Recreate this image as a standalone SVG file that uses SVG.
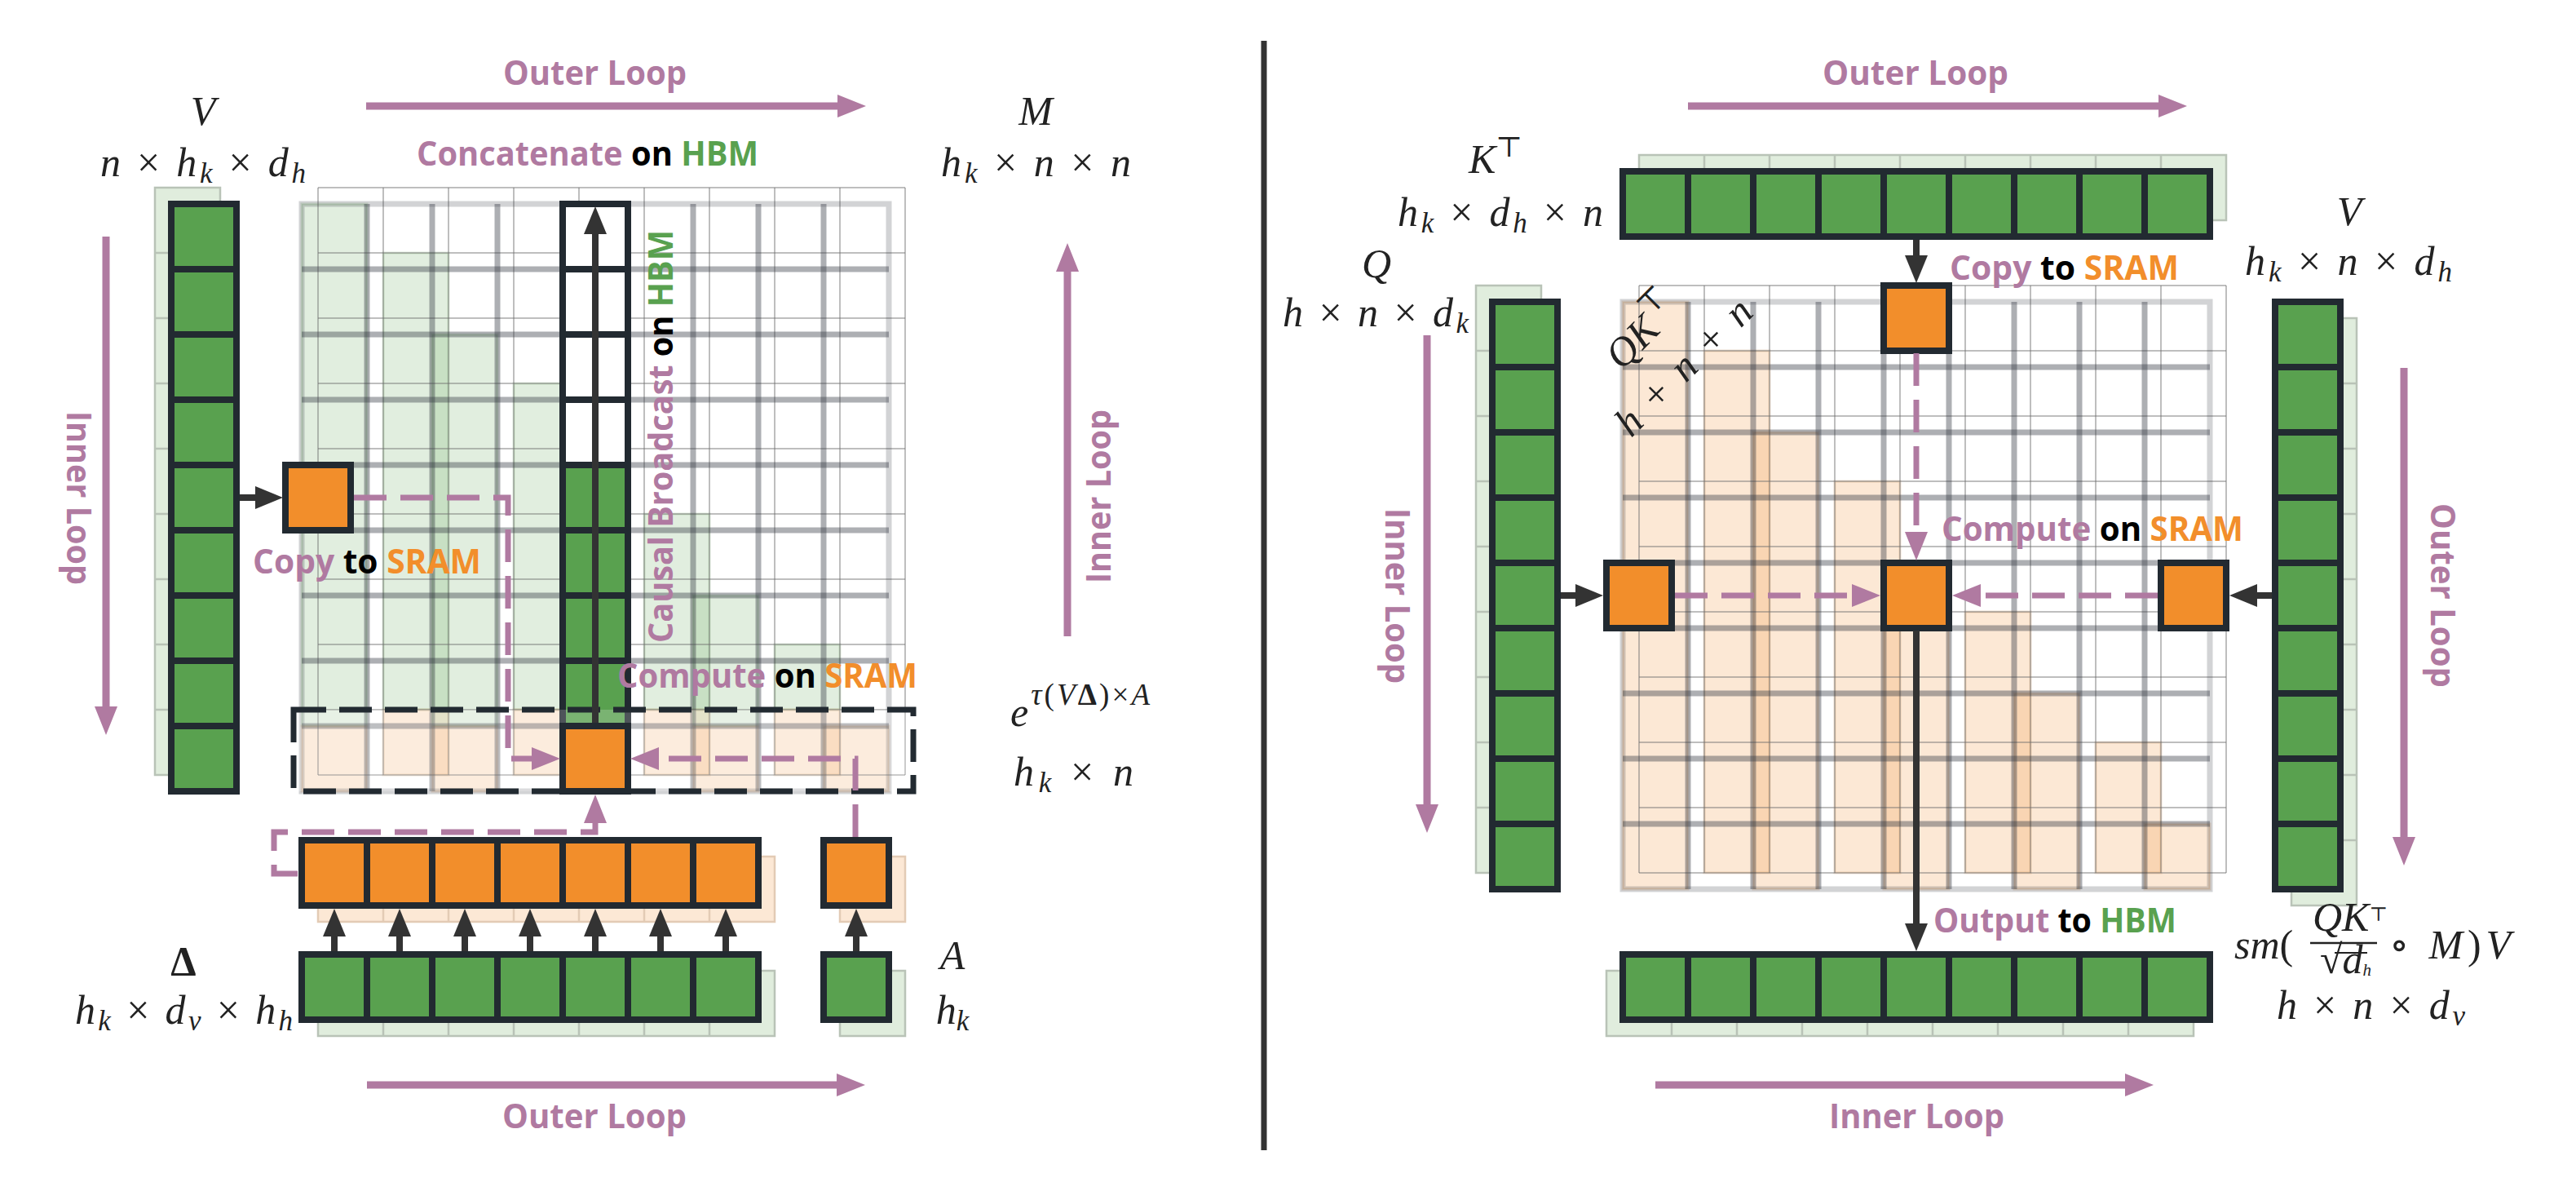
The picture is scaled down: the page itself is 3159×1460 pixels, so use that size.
<svg xmlns="http://www.w3.org/2000/svg" width="3159" height="1460" viewBox="0 0 3159 1460">
<style>
.g{fill:#59a14f;stroke:#222a31;stroke-width:8}
.o{fill:#f28e2b;stroke:#222a31;stroke-width:8}
.w{fill:#fff;stroke:#222a31;stroke-width:8}
.sep{fill:none;stroke:#222a31;stroke-width:8}
.sg{fill:#e0eddd;stroke:#b9c3b7;stroke-width:2.5}
.so{fill:#fce8d5;stroke:#e3cbb5;stroke-width:2.5}
.sl{fill:none;stroke:#b9c3b7;stroke-width:2.5}
.slo{fill:none;stroke:#e3cbb5;stroke-width:2.5}
.mg{fill:#59a14f;fill-opacity:.18;stroke:#59a14f;stroke-opacity:.2;stroke-width:3}
.mo{fill:#f28e2b;fill-opacity:.2;stroke:#c98a52;stroke-opacity:.25;stroke-width:3}
.tn{fill:none;stroke:#6f6f6f;stroke-opacity:.45;stroke-width:2}
.tko{fill:none;stroke:#333740;stroke-opacity:.22;stroke-width:7}
.tki{fill:none;stroke:#333740;stroke-opacity:.4;stroke-width:7}
.pd{fill:none;stroke:#b07aa1;stroke-width:7;stroke-dasharray:40 17}
.lp{fill:none;stroke:#b07aa1;stroke-width:9}
.bk{fill:none;stroke:#333;stroke-width:8}
.bd{fill:#fff;fill-opacity:.2;stroke:#222a31;stroke-width:7;stroke-dasharray:40 16}
.t{font-family:"Open Sans","Liberation Sans",sans-serif;font-weight:700;font-size:42px}
.tb{font-family:"Open Sans","Liberation Sans",sans-serif;font-weight:700;font-size:42px}
.p{fill:#b07aa1}.k{fill:#000}.hg{fill:#59a14f}.ho{fill:#f28e2b}
.m{font-family:"Liberation Serif","DejaVu Serif",serif;font-size:50px;fill:#222}
.i{font-style:italic}
.s{font-size:35px}
</style>
<defs>
<marker id="ab" markerUnits="userSpaceOnUse" markerWidth="40" markerHeight="32" refX="0" refY="14" orient="auto" overflow="visible"><path d="M0,0L34,14L0,28z" fill="#333"/></marker>
<marker id="ap" markerUnits="userSpaceOnUse" markerWidth="40" markerHeight="32" refX="0" refY="14" orient="auto" overflow="visible"><path d="M0,0L35,14L0,28z" fill="#b07aa1"/></marker>
</defs>
<rect width="3159" height="1460" fill="#fff"/>

<!-- ================= LEFT PANEL ================= -->
<g id="left-M-grid">
  <rect class="mg" x="470" y="310" width="80" height="560"/>
  <rect class="mg" x="630" y="470" width="80" height="400"/>
  <rect class="mg" x="790" y="630" width="80" height="240"/>
  <rect class="mg" x="950" y="790" width="80" height="80"/>
  <rect class="mo" x="470" y="870" width="80" height="80"/>
  <rect class="mo" x="630" y="870" width="80" height="80"/>
  <rect class="mo" x="790" y="870" width="80" height="80"/>
  <rect class="mo" x="950" y="870" width="80" height="80"/>
  <rect class="mg" x="370" y="250" width="80" height="640"/>
  <rect class="mg" x="530" y="410" width="80" height="480"/>
  <rect class="mg" x="690" y="570" width="80" height="320"/>
  <rect class="mg" x="850" y="730" width="80" height="160"/>
  <rect class="mo" x="370" y="890" width="80" height="80"/>
  <rect class="mo" x="530" y="890" width="80" height="80"/>
  <rect class="mo" x="690" y="890" width="80" height="80"/>
  <rect class="mo" x="850" y="890" width="80" height="80"/>
  <rect class="mo" x="1010" y="890" width="80" height="80"/>
  <path class="tn" d="M390,230V950M470,230V950M550,230V950M630,230V950M710,230V950M790,230V950M870,230V950M950,230V950M1030,230V950M1110,230V950"/>
  <path class="tn" d="M390,230H1110M390,310H1110M390,390H1110M390,470H1110M390,550H1110M390,630H1110M390,710H1110M390,790H1110M390,870H1110M390,950H1110"/>
  <rect class="tko" x="370" y="250" width="720" height="720"/>
  <path class="tki" d="M450,250V970M530,250V970M610,250V970M690,250V970M770,250V970M850,250V970M930,250V970M1010,250V970"/>
  <path class="tki" d="M370,330H1090M370,410H1090M370,490H1090M370,570H1090M370,650H1090M370,730H1090M370,810H1090M370,890H1090"/>
</g>

<g id="left-V">
  <rect class="sg" x="190" y="230" width="80" height="720"/>
  <path class="sl" d="M190,310h80M190,390h80M190,470h80M190,550h80M190,630h80M190,710h80M190,790h80M190,870h80"/>
  <rect class="g" x="210" y="250" width="80" height="720"/>
  <path class="sep" d="M210,330h80M210,410h80M210,490h80M210,570h80M210,650h80M210,730h80M210,810h80M210,890h80"/>
</g>

<g id="left-broadcast-column">
  <rect class="w" x="690" y="250" width="80" height="320"/>
  <rect class="g" x="690" y="570" width="80" height="320"/>
  <path class="sep" d="M690,330h80M690,410h80M690,490h80M690,650h80M690,730h80M690,810h80"/>
</g>

<g id="left-compute-row-box">
  <rect class="bd" x="360" y="870" width="760" height="100"/>
</g>

<g id="left-copy-cell"><rect class="o" x="350" y="570" width="80" height="80"/></g>
<g id="left-compute-cell"><rect class="o" x="690" y="890" width="80" height="80"/></g>

<g id="left-delta-sram">
  <rect class="so" x="390" y="1050" width="560" height="80"/>
  <path class="slo" d="M470,1050v80M550,1050v80M630,1050v80M710,1050v80M790,1050v80M870,1050v80"/>
  <rect class="o" x="370" y="1030" width="560" height="80"/>
  <path class="sep" d="M450,1030v80M530,1030v80M610,1030v80M690,1030v80M770,1030v80M850,1030v80"/>
</g>
<g id="left-A-sram">
  <rect class="so" x="1030" y="1050" width="80" height="80"/>
  <rect class="o" x="1010" y="1030" width="80" height="80"/>
</g>
<g id="left-delta">
  <rect class="sg" x="390" y="1190" width="560" height="80"/>
  <path class="sl" d="M470,1190v80M550,1190v80M630,1190v80M710,1190v80M790,1190v80M870,1190v80"/>
  <rect class="g" x="370" y="1170" width="560" height="80"/>
  <path class="sep" d="M450,1170v80M530,1170v80M610,1170v80M690,1170v80M770,1170v80M850,1170v80"/>
</g>
<g id="left-A">
  <rect class="sg" x="1030" y="1190" width="80" height="80"/>
  <rect class="g" x="1010" y="1170" width="80" height="80"/>
</g>

<!-- ================= RIGHT PANEL ================= -->
<g id="right-S-grid">
  <rect class="mo" x="2090" y="430" width="80" height="640"/>
  <rect class="mo" x="2250" y="590" width="80" height="480"/>
  <rect class="mo" x="2410" y="750" width="80" height="320"/>
  <rect class="mo" x="2570" y="910" width="80" height="160"/>
  <rect class="mo" x="1990" y="370" width="80" height="720"/>
  <rect class="mo" x="2150" y="530" width="80" height="560"/>
  <rect class="mo" x="2310" y="690" width="80" height="400"/>
  <rect class="mo" x="2470" y="850" width="80" height="240"/>
  <rect class="mo" x="2630" y="1010" width="80" height="80"/>
  <path class="tn" d="M2010,350V1070M2090,350V1070M2170,350V1070M2250,350V1070M2330,350V1070M2410,350V1070M2490,350V1070M2570,350V1070M2650,350V1070M2730,350V1070"/>
  <path class="tn" d="M2010,350H2730M2010,430H2730M2010,510H2730M2010,590H2730M2010,670H2730M2010,750H2730M2010,830H2730M2010,910H2730M2010,990H2730M2010,1070H2730"/>
  <rect class="tko" x="1990" y="370" width="720" height="720"/>
  <path class="tki" d="M2070,370V1090M2150,370V1090M2230,370V1090M2310,370V1090M2390,370V1090M2470,370V1090M2550,370V1090M2630,370V1090"/>
  <path class="tki" d="M1990,450H2710M1990,530H2710M1990,610H2710M1990,690H2710M1990,770H2710M1990,850H2710M1990,930H2710M1990,1010H2710"/>
</g>

<g id="right-K">
  <rect class="sg" x="2010" y="190" width="720" height="80"/>
  <path class="sl" d="M2090,190v80M2170,190v80M2250,190v80M2330,190v80M2410,190v80M2490,190v80M2570,190v80M2650,190v80"/>
  <rect class="g" x="1990" y="210" width="720" height="80"/>
  <path class="sep" d="M2070,210v80M2150,210v80M2230,210v80M2310,210v80M2390,210v80M2470,210v80M2550,210v80M2630,210v80"/>
</g>
<g id="right-Q">
  <rect class="sg" x="1810" y="350" width="80" height="720"/>
  <path class="sl" d="M1810,430h80M1810,510h80M1810,590h80M1810,670h80M1810,750h80M1810,830h80M1810,910h80M1810,990h80"/>
  <rect class="g" x="1830" y="370" width="80" height="720"/>
  <path class="sep" d="M1830,450h80M1830,530h80M1830,610h80M1830,690h80M1830,770h80M1830,850h80M1830,930h80M1830,1010h80"/>
</g>
<g id="right-V">
  <rect class="sg" x="2810" y="390" width="80" height="720"/>
  <path class="sl" d="M2810,470h80M2810,550h80M2810,630h80M2810,710h80M2810,790h80M2810,870h80M2810,950h80M2810,1030h80"/>
  <rect class="g" x="2790" y="370" width="80" height="720"/>
  <path class="sep" d="M2790,450h80M2790,530h80M2790,610h80M2790,690h80M2790,770h80M2790,850h80M2790,930h80M2790,1010h80"/>
</g>
<g id="right-out">
  <rect class="sg" x="1970" y="1190" width="720" height="80"/>
  <path class="sl" d="M2050,1190v80M2130,1190v80M2210,1190v80M2290,1190v80M2370,1190v80M2450,1190v80M2530,1190v80M2610,1190v80"/>
  <rect class="g" x="1990" y="1170" width="720" height="80"/>
  <path class="sep" d="M2070,1170v80M2150,1170v80M2230,1170v80M2310,1170v80M2390,1170v80M2470,1170v80M2550,1170v80M2630,1170v80"/>
</g>
<g id="right-K-copy"><rect class="o" x="2310" y="350" width="80" height="80"/></g>
<g id="right-Q-copy"><rect class="o" x="1970" y="690" width="80" height="80"/></g>
<g id="right-compute"><rect class="o" x="2310" y="690" width="80" height="80"/></g>
<g id="right-V-copy"><rect class="o" x="2650" y="690" width="80" height="80"/></g>

<!-- ================= CONNECTORS ================= -->
<g id="connectors">
  <path class="pd" d="M434,610H623V930H652" marker-end="url(#ap)"/>
  <path class="pd" d="M1049,1026V930H808" marker-end="url(#ap)"/>
  <path class="pd" d="M365,1071H336V1020H730V1009" marker-end="url(#ap)"/>
  <path class="bk" d="M294,610H313" marker-end="url(#ab)"/>
  <path class="bk" d="M730,886V287" marker-end="url(#ab)"/>
  <path class="bk" d="M410,1166V1148" marker-end="url(#ab)"/>
  <path class="bk" d="M490,1166V1148" marker-end="url(#ab)"/>
  <path class="bk" d="M570,1166V1148" marker-end="url(#ab)"/>
  <path class="bk" d="M650,1166V1148" marker-end="url(#ab)"/>
  <path class="bk" d="M730,1166V1148" marker-end="url(#ab)"/>
  <path class="bk" d="M810,1166V1148" marker-end="url(#ab)"/>
  <path class="bk" d="M890,1166V1148" marker-end="url(#ab)"/>
  <path class="bk" d="M1050,1166V1148" marker-end="url(#ab)"/>
  <path class="lp" d="M449,130H1027" marker-end="url(#ap)"/>
  <path class="lp" d="M450,1330H1026" marker-end="url(#ap)"/>
  <path class="lp" d="M130,290V866" marker-end="url(#ap)"/>
  <path class="lp" d="M1309,780V333" marker-end="url(#ap)"/>

  <path class="pd" d="M2350,433V652" marker-end="url(#ap)"/>
  <path class="pd" d="M2054,730H2271" marker-end="url(#ap)"/>
  <path class="pd" d="M2646,730H2429" marker-end="url(#ap)"/>
  <path class="bk" d="M2350,294V313" marker-end="url(#ab)"/>
  <path class="bk" d="M1914,730H1932" marker-end="url(#ab)"/>
  <path class="bk" d="M2786,730H2768" marker-end="url(#ab)"/>
  <path class="bk" d="M2350,773V1132" marker-end="url(#ab)"/>
  <path class="lp" d="M2070,130H2647" marker-end="url(#ap)"/>
  <path class="lp" d="M2030,1330H2606" marker-end="url(#ap)"/>
  <path class="lp" d="M1750,411V986" marker-end="url(#ap)"/>
  <path class="lp" d="M2948,451V1026" marker-end="url(#ap)"/>
</g>

<line x1="1550" y1="50" x2="1550" y2="1410" stroke="#333" stroke-width="7"/>

<!-- ================= LABELS ================= -->
<g id="labels">
  <text class="t p" x="617" y="104" textLength="225" lengthAdjust="spacingAndGlyphs">Outer Loop</text>
  <text class="t p" x="616" y="1383" textLength="226" lengthAdjust="spacingAndGlyphs">Outer Loop</text>
  <text class="t p" x="2235" y="104" textLength="228" lengthAdjust="spacingAndGlyphs">Outer Loop</text>
  <text class="t p" x="2243" y="1383" textLength="215" lengthAdjust="spacingAndGlyphs">Inner Loop</text>
  <text class="t p" transform="translate(82,504) rotate(90)" textLength="213" lengthAdjust="spacingAndGlyphs">Inner Loop</text>
  <text class="t p" transform="translate(1362,715) rotate(-90)" textLength="213" lengthAdjust="spacingAndGlyphs">Inner Loop</text>
  <text class="t p" transform="translate(1699,623) rotate(90)" textLength="215" lengthAdjust="spacingAndGlyphs">Inner Loop</text>
  <text class="t p" transform="translate(2981,617) rotate(90)" textLength="226" lengthAdjust="spacingAndGlyphs">Outer Loop</text>

  <text class="t" x="511" y="203" textLength="419" lengthAdjust="spacingAndGlyphs"><tspan class="p">Concatenate</tspan> <tspan class="k">on</tspan> <tspan class="hg">HBM</tspan></text>
  <text class="t" x="310" y="703" textLength="280" lengthAdjust="spacingAndGlyphs"><tspan class="p">Copy</tspan> <tspan class="k">to</tspan> <tspan class="ho">SRAM</tspan></text>
  <text class="t" x="757" y="843" textLength="368" lengthAdjust="spacingAndGlyphs"><tspan class="p">Compute</tspan> <tspan class="k">on</tspan> <tspan class="ho">SRAM</tspan></text>
  <text class="tb" transform="translate(825,788) rotate(-90)" textLength="506" lengthAdjust="spacingAndGlyphs"><tspan class="p">Causal Broadcast</tspan> <tspan class="k">on</tspan> <tspan class="hg">HBM</tspan></text>
  <text class="t" x="2391" y="343" textLength="281" lengthAdjust="spacingAndGlyphs"><tspan class="p">Copy</tspan> <tspan class="k">to</tspan> <tspan class="ho">SRAM</tspan></text>
  <text class="t" x="2381" y="663" textLength="370" lengthAdjust="spacingAndGlyphs"><tspan class="p">Compute</tspan> <tspan class="k">on</tspan> <tspan class="ho">SRAM</tspan></text>
  <text class="t" x="2371" y="1143" textLength="298" lengthAdjust="spacingAndGlyphs"><tspan class="p">Output</tspan> <tspan class="k">to</tspan> <tspan class="hg">HBM</tspan></text>

  <text class="m i" x="249" y="153" text-anchor="middle" font-size="54">V</text>
  <text class="m" x="123" y="216" textLength="252"><tspan class="i">n</tspan> × <tspan class="i">h</tspan><tspan class="i s" dy="8">k</tspan><tspan dy="-8"> × </tspan><tspan class="i">d</tspan><tspan class="i s" dy="8">h</tspan></text>
  <text class="m i" x="1270" y="153" text-anchor="middle" font-size="54">M</text>
  <text class="m" x="1154" y="216" textLength="233"><tspan class="i">h</tspan><tspan class="i s" dy="8">k</tspan><tspan dy="-8"> × </tspan><tspan class="i">n</tspan> × <tspan class="i">n</tspan></text>
  <text class="m" x="1239" y="890" textLength="171"><tspan class="i">e</tspan><tspan font-size="37" dy="-26"><tspan class="i">τ</tspan>(<tspan class="i">V</tspan><tspan font-weight="bold">Δ</tspan>)×<tspan class="i">A</tspan></tspan></text>
  <text class="m" x="1243" y="963" textLength="147"><tspan class="i">h</tspan><tspan class="i s" dy="8">k</tspan><tspan dy="-8"> × </tspan><tspan class="i">n</tspan></text>
  <text class="m" x="225" y="1195" text-anchor="middle" font-weight="bold" font-size="48">Δ</text>
  <text class="m" x="92" y="1255" textLength="267"><tspan class="i">h</tspan><tspan class="i s" dy="8">k</tspan><tspan dy="-8"> × </tspan><tspan class="i">d</tspan><tspan class="i s" dy="8">v</tspan><tspan dy="-8"> × </tspan><tspan class="i">h</tspan><tspan class="i s" dy="8">h</tspan></text>
  <text class="m i" x="1168" y="1188" text-anchor="middle" font-size="52">A</text>
  <text class="m" x="1168" y="1255" text-anchor="middle"><tspan class="i">h</tspan><tspan class="i s" dy="8">k</tspan></text>

  <text class="m" x="1801" y="212" font-size="54"><tspan class="i">K</tspan><tspan class="s" dy="-20">⊤</tspan></text>
  <text class="m" x="1714" y="277" textLength="252"><tspan class="i">h</tspan><tspan class="i s" dy="8">k</tspan><tspan dy="-8"> × </tspan><tspan class="i">d</tspan><tspan class="i s" dy="8">h</tspan><tspan dy="-8"> × </tspan><tspan class="i">n</tspan></text>
  <text class="m i" x="1688" y="340" text-anchor="middle" font-size="54">Q</text>
  <text class="m" x="1573" y="400" textLength="228"><tspan class="i">h</tspan> × <tspan class="i">n</tspan> × <tspan class="i">d</tspan><tspan class="i s" dy="8">k</tspan></text>
  <text class="m i" x="2881" y="276" text-anchor="middle" font-size="54">V</text>
  <text class="m" x="2753" y="337" textLength="254"><tspan class="i">h</tspan><tspan class="i s" dy="8">k</tspan><tspan dy="-8"> × </tspan><tspan class="i">n</tspan> × <tspan class="i">d</tspan><tspan class="i s" dy="8">h</tspan></text>
  <g transform="translate(2026,418) rotate(-45)">
    <text class="m" x="0" y="0" text-anchor="middle" font-size="56"><tspan class="i">QK</tspan><tspan font-size="38" dy="-22">⊤</tspan></text>
    <text class="m" x="5" y="66" text-anchor="middle" font-size="52" textLength="215"><tspan class="i">h</tspan> + <tspan class="i">n</tspan> + <tspan class="i">n</tspan></text>
  </g>
  <text class="m" x="2740" y="1175" font-size="54"><tspan class="i">sm</tspan>(</text>
  <text class="m" x="2836" y="1141" font-size="34"><tspan class="i">QK</tspan><tspan font-size="24" dy="-12">⊤</tspan></text>
  <line x1="2833" y1="1156" x2="2915" y2="1156" stroke="#222" stroke-width="2.5"/>
  <text class="m" x="2845" y="1193" font-size="30">√<tspan class="i">d</tspan><tspan class="i" font-size="21" dy="3">h</tspan></text>
  <line x1="2863" y1="1168" x2="2903" y2="1168" stroke="#222" stroke-width="2"/>
  <text class="m" x="2930" y="1175" font-size="54" textLength="149">∘ <tspan class="i">M</tspan>)<tspan class="i">V</tspan></text>
  <text class="m" x="2792" y="1249" textLength="231"><tspan class="i">h</tspan> × <tspan class="i">n</tspan> × <tspan class="i">d</tspan><tspan class="i s" dy="8">v</tspan></text>
</g>
</svg>
